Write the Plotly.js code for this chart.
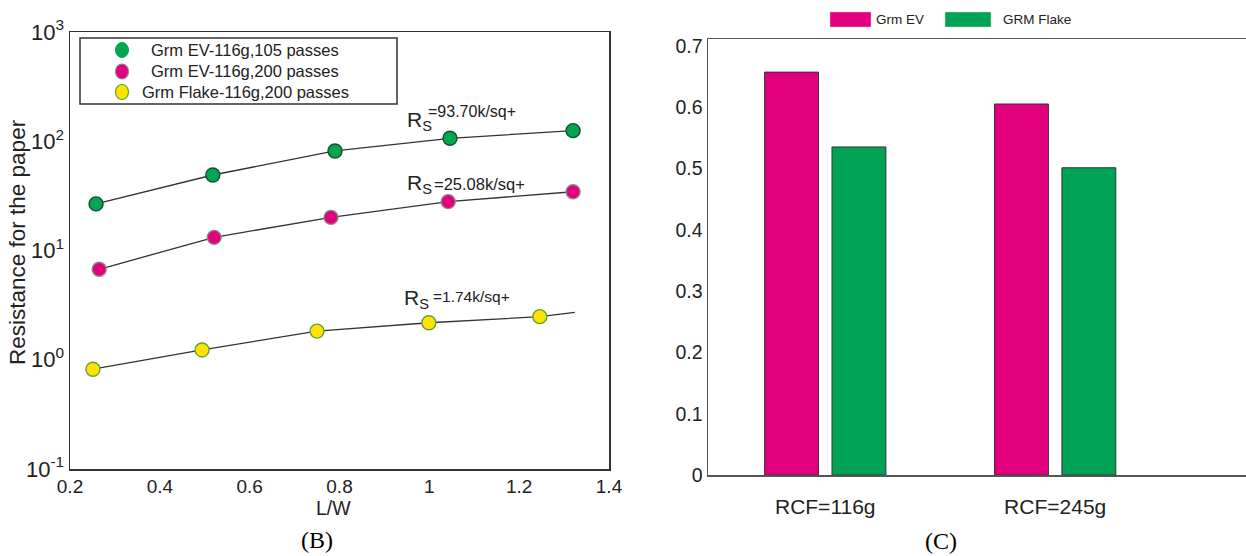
<!DOCTYPE html>
<html>
<head>
<meta charset="utf-8">
<script src="https://cdn.plot.ly/plotly-3.0.1.min.js"></script>
<style>html,body{margin:0;padding:0;background:#fff;}#chart{width:1246px;height:556px;}</style>
</head>
<body>
<div id="chart"></div>
<script>
// ---- Panel (B) data ----
var ev105X = [0.258, 0.518, 0.790, 1.046, 1.320];
var ev105Y = [26.7, 49.1, 81.5, 106.4, 125];
var ev200X = [0.265, 0.521, 0.781, 1.042, 1.320];
var ev200Y = [6.73, 13.2, 20.1, 28.0, 34.5];
var flakeX = [0.251, 0.494, 0.750, 0.999, 1.246];
var flakeY = [0.819, 1.23, 1.83, 2.18, 2.48];
var flakeLineX = [0.251, 0.494, 0.750, 0.999, 1.246, 1.324];
var flakeLineY = [0.819, 1.23, 1.83, 2.18, 2.48, 2.72];
var seriesNamesB = ['Grm EV-116g,105 passes', 'Grm EV-116g,200 passes', 'Grm Flake-116g,200 passes'];
var rsLabels = ['=93.70k/sq+', '=25.08k/sq+', '=1.74k/sq+'];
var logTickVals = [0.1, 1, 10, 100, 1000];
var logTickText = ['10<sup>-1</sup>', '10<sup>0</sup>', '10<sup>1</sup>', '10<sup>2</sup>', '10<sup>3</sup>'];

// ---- Panel (C) data ----
var categoriesC = ['RCF=116g', 'RCF=245g'];
var grmEV = [0.657, 0.605];
var grmFlake = [0.535, 0.501];
var seriesNamesC = ['Grm EV', 'GRM Flake'];

var W = 1246, H = 556;
function px(x){ return x / W; }
function py(y){ return 1 - y / H; }

var cGreen = '#00A651', cPink = '#E2007E', cYellow = '#FFE200';
var lineCol = '#333333';

var traces = [
  {x: ev105X, y: ev105Y, mode: 'lines+markers', type: 'scatter', xaxis: 'x', yaxis: 'y',
   line: {color: lineCol, width: 1.3},
   marker: {size: 14, color: cGreen, line: {color: '#174D2A', width: 1.4}}},
  {x: ev200X, y: ev200Y, mode: 'lines+markers', type: 'scatter', xaxis: 'x', yaxis: 'y',
   line: {color: lineCol, width: 1.3},
   marker: {size: 14, color: cPink, line: {color: '#8A8A8A', width: 1.4}}},
  {x: flakeLineX, y: flakeLineY, mode: 'lines', type: 'scatter', xaxis: 'x', yaxis: 'y',
   line: {color: lineCol, width: 1.3}},
  {x: flakeX, y: flakeY, mode: 'markers', type: 'scatter', xaxis: 'x', yaxis: 'y',
   marker: {size: 14, color: cYellow, line: {color: '#5DA534', width: 1.4}}},
  {x: categoriesC, y: grmEV, type: 'bar', name: seriesNamesC[0], xaxis: 'x2', yaxis: 'y2',
   marker: {color: cPink, line: {color: '#333', width: 1}}},
  {x: categoriesC, y: grmFlake, type: 'bar', name: seriesNamesC[1], xaxis: 'x2', yaxis: 'y2',
   marker: {color: '#00A356', line: {color: '#333', width: 1}}}
];

var fontFam = 'Liberation Sans, Arial, sans-serif';
var txtCol = '#222';

var shapes = [
  // legend box (B)
  {type: 'rect', xref: 'paper', yref: 'paper', x0: px(80), x1: px(397), y0: py(104), y1: py(38),
   line: {color: '#333', width: 1.5}, fillcolor: 'rgba(0,0,0,0)'},
  {type: 'circle', xref: 'paper', yref: 'paper', x0: px(115.5), x1: px(128.5), y0: py(57.5), y1: py(42.5),
   fillcolor: cGreen, line: {color: cGreen, width: 1}},
  {type: 'circle', xref: 'paper', yref: 'paper', x0: px(115.5), x1: px(128.5), y0: py(79), y1: py(64),
   fillcolor: cPink, line: {color: '#8A8A8A', width: 1.2}},
  {type: 'circle', xref: 'paper', yref: 'paper', x0: px(115.5), x1: px(128.5), y0: py(99.5), y1: py(84.5),
   fillcolor: cYellow, line: {color: '#5DA534', width: 1.2}},
  // legend swatches (C)
  {type: 'rect', xref: 'paper', yref: 'paper', x0: px(830), x1: px(871), y0: py(27), y1: py(12),
   fillcolor: cPink, line: {color: '#d0d0d0', width: 0.5}},
  {type: 'rect', xref: 'paper', yref: 'paper', x0: px(945), x1: px(991), y0: py(27), y1: py(12),
   fillcolor: '#00A356', line: {color: '#d0d0d0', width: 0.5}}
];

function ann(text, x, y, size, opts){
  var a = {text: text, x: px(x), y: py(y), xref: 'paper', yref: 'paper', showarrow: false,
           xanchor: 'center', yanchor: 'middle', font: {size: size, color: txtCol, family: fontFam}};
  if (opts) for (var k in opts) a[k] = opts[k];
  return a;
}

var annotations = [
  ann(seriesNamesB[0], 245, 50, 16.5),
  ann(seriesNamesB[1], 245, 71, 16.5),
  ann(seriesNamesB[2], 245, 92, 16.5),
  ann(seriesNamesC[0], 874, 19, 13.5, {xanchor: 'left'}),
  ann(seriesNamesC[1], 1001, 19, 13.5, {xanchor: 'left'}),
  ann('R<sub>S</sub>', 405, 121, 21, {xanchor: 'left'}),
  ann(rsLabels[0], 426, 111.5, 16, {xanchor: 'left'}),
  ann('R<sub>S</sub>', 405, 184, 21, {xanchor: 'left'}),
  ann(rsLabels[1], 432, 184, 16.5, {xanchor: 'left'}),
  ann('R<sub>S</sub>', 402, 299, 21, {xanchor: 'left'}),
  ann(rsLabels[2], 431, 296, 15.5, {xanchor: 'left'}),
  ann('Resistance for the paper', 18, 242, 22.5, {textangle: -90}),
  ann('L/W', 333, 508, 19.5),
  ann('(B)', 317, 540, 24, {font: {size: 24, color: '#000', family: 'Liberation Serif, Times New Roman, serif'}}),
  ann('(C)', 941, 541, 24, {font: {size: 24, color: '#000', family: 'Liberation Serif, Times New Roman, serif'}})
];

var layout = {
  width: W, height: H,
  margin: {l: 0, r: 0, t: 0, b: 0},
  paper_bgcolor: '#fff', plot_bgcolor: '#fff',
  showlegend: false,
  font: {family: fontFam, color: txtCol},
  barmode: 'group', bargap: 0.414, bargroupgap: 0.2,
  xaxis: {domain: [px(70), px(609)], anchor: 'y', range: [0.2, 1.4], tick0: 0.2, dtick: 0.2,
          showline: true, mirror: true, linecolor: '#333', linewidth: 1.5, showgrid: false,
          zeroline: false, ticks: '', tickfont: {size: 19, color: txtCol}},
  yaxis: {domain: [py(469), py(32)], anchor: 'x', type: 'log', range: [-1, 3],
          tickvals: logTickVals, ticktext: logTickText,
          showline: true, mirror: true, linecolor: '#333', linewidth: 1.5, showgrid: false,
          zeroline: false, ticks: '', tickfont: {size: 22, color: txtCol}},
  xaxis2: {domain: [px(708), 1], anchor: 'y2', range: [-0.51, 1.83],
           showline: true, mirror: true, linecolor: '#555', linewidth: 1.5, showgrid: false,
           zeroline: false, ticks: '', tickfont: {size: 21, color: txtCol}, ticklabelstandoff: 12},
  yaxis2: {domain: [py(475), py(39)], anchor: 'x2', range: [0, 0.711], dtick: 0.1, tick0: 0,
           showline: true, mirror: false, linecolor: '#555', linewidth: 1.5, showgrid: false,
           zeroline: false, ticks: '', tickfont: {size: 19.5, color: txtCol}},
  shapes: shapes,
  annotations: annotations
};

Plotly.newPlot('chart', traces, layout, {displayModeBar: false, staticPlot: true});
</script>
</body>
</html>
